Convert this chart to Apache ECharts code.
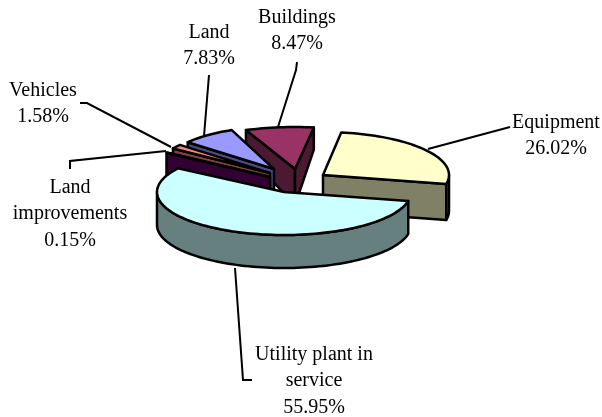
<!DOCTYPE html>
<html>
<head>
<meta charset="utf-8">
<style>html,body{margin:0;padding:0;background:#fff}#chart{width:602px;height:417px}</style>
<script src="https://cdn.jsdelivr.net/npm/echarts@6/dist/echarts.min.js"></script>
</head>
<body>
<div id="chart"></div>
<script>
// clockwise from the right end of the big slice
const categories = ['Utility plant in service', 'Land improvements', 'Vehicles', 'Land', 'Buildings', 'Equipment'];
const shares = [55.95, 0.15, 1.58, 7.83, 8.47, 26.02];
const labelLines = [['Utility plant in', 'service'], ['Land', 'improvements'], ['Vehicles'], ['Land'], ['Buildings'], ['Equipment']];

const topColors = ['#ccffff', '#660066', '#ff8080', '#9999ff', '#993366', '#ffffcc'];
const sideColors = ['#668080', '#330033', '#804040', '#4c4c80', '#4c1933', '#808066'];
// exploded slice centre and ellipse radii, in pixels
const sliceLayout = [
  {cx: 284, cy: 192, rx: 127, ry: 43, depth: 33},
  {cx: 270, cy: 177, rx: 124, ry: 44, depth: 33},
  {cx: 270, cy: 173, rx: 117, ry: 44, depth: 33},
  {cx: 274, cy: 169, rx: 112, ry: 42, depth: 33},
  {cx: 295, cy: 169, rx: 130, ry: 42, depth: 36},
  {cx: 323, cy: 175, rx: 126, ry: 43, depth: 36}
];
const labelLayout = [
  {x: 314, y: 341, points: [[235, 268], [243, 380], [252, 380]]},
  {x: 70, y: 174, points: [[70, 169], [70, 161], [166, 151]]},
  {x: 43, y: 77, points: [[80, 103], [87, 103], [171, 147]]},
  {x: 209, y: 19, points: [[209, 75], [204, 136]]},
  {x: 297, y: 4, points: [[297, 62], [296, 70], [278, 127]]},
  {x: 556, y: 109, points: [[510, 127], [428, 149]]}
];
// back to front
const drawOrder = [4, 3, 2, 1, 5, 0];
const startAngle = 12;

const angles = [];
let run = startAngle;
shares.forEach(function (v) {
  angles.push([run, run + v * 3.6]);
  run += v * 3.6;
});

function rimPoint(l, deg, dy) {
  const a = deg * Math.PI / 180;
  return [l.cx + l.rx * Math.cos(a), l.cy + l.ry * Math.sin(a) + (dy || 0)];
}

// perspective: the far rim of the pie is drawn shallower
function rimDepth(l, deg) {
  const s = Math.sin(deg * Math.PI / 180);
  return s < 0 ? l.depth * (1 + 0.39 * s) : l.depth;
}

function arcPoints(l, a0, a1, dy) {
  const pts = [];
  const n = Math.max(2, Math.ceil((a1 - a0) / 2));
  for (let i = 0; i <= n; i++) {
    pts.push(rimPoint(l, a0 + (a1 - a0) * i / n, dy));
  }
  return pts;
}

function face(points, color) {
  return {
    type: 'polygon',
    shape: {points: points},
    style: {fill: color, stroke: '#000', lineWidth: 2.5, lineJoin: 'round'}
  };
}

function renderSlice(params, api) {
  const i = api.value(1);
  const l = sliceLayout[i];
  const a0 = angles[i][0], a1 = angles[i][1];
  const side = sideColors[i];
  const children = [];
  const tip = [l.cx, l.cy];
  const tipLow = [l.cx, l.cy + l.depth];

  // radial walls that face the viewer
  if (Math.cos(a0 * Math.PI / 180) < 0) {
    children.push(face([tip, rimPoint(l, a0), rimPoint(l, a0, rimDepth(l, a0)), tipLow], side));
  }
  if (Math.cos(a1 * Math.PI / 180) > 0) {
    children.push(face([tip, rimPoint(l, a1), rimPoint(l, a1, rimDepth(l, a1)), tipLow], side));
  }
  // outer wall, only the front half of the ellipse shows
  const f0 = Math.max(a0, 0), f1 = Math.min(a1, 180);
  if (f1 > f0) {
    children.push(face(arcPoints(l, f0, f1, 0).concat(arcPoints(l, f0, f1, l.depth).reverse()), side));
  }
  if (a1 > 360) {
    const e1 = a1 - 360;
    children.push(face(arcPoints(l, 0, e1, 0).concat(arcPoints(l, 0, e1, l.depth).reverse()), side));
  }
  children.push(face([tip].concat(arcPoints(l, a0, a1, 0)), topColors[i]));
  return {type: 'group', children: children};
}

function renderLabel(params, api) {
  const i = api.value(1);
  const p = labelLayout[i];
  const lines = labelLines[i].concat([api.value(0).toFixed(2) + '%']);
  return {
    type: 'group',
    children: [
      {
        type: 'polyline',
        shape: {points: p.points},
        style: {fill: null, stroke: '#000', lineWidth: 2}
      },
      {
        type: 'text',
        style: {
          x: p.x, y: p.y,
          text: lines.join('\n'),
          font: '20px "Liberation Serif"',
          lineHeight: 26.5,
          fill: '#000',
          align: 'center',
          verticalAlign: 'top'
        }
      }
    ]
  };
}

const chart = echarts.init(document.getElementById('chart'), null, {renderer: 'canvas'});
chart.setOption({
  animation: false,
  backgroundColor: '#fff',
  series: [
    {
      type: 'custom',
      coordinateSystem: 'none',
      silent: true,
      z: 1,
      renderItem: renderLabel,
      data: shares.map(function (v, i) { return [v, i]; })
    },
    {
      type: 'custom',
      coordinateSystem: 'none',
      silent: true,
      z: 2,
      renderItem: renderSlice,
      data: drawOrder.map(function (i) { return [shares[i], i]; })
    }
  ]
});
</script>
</body>
</html>
